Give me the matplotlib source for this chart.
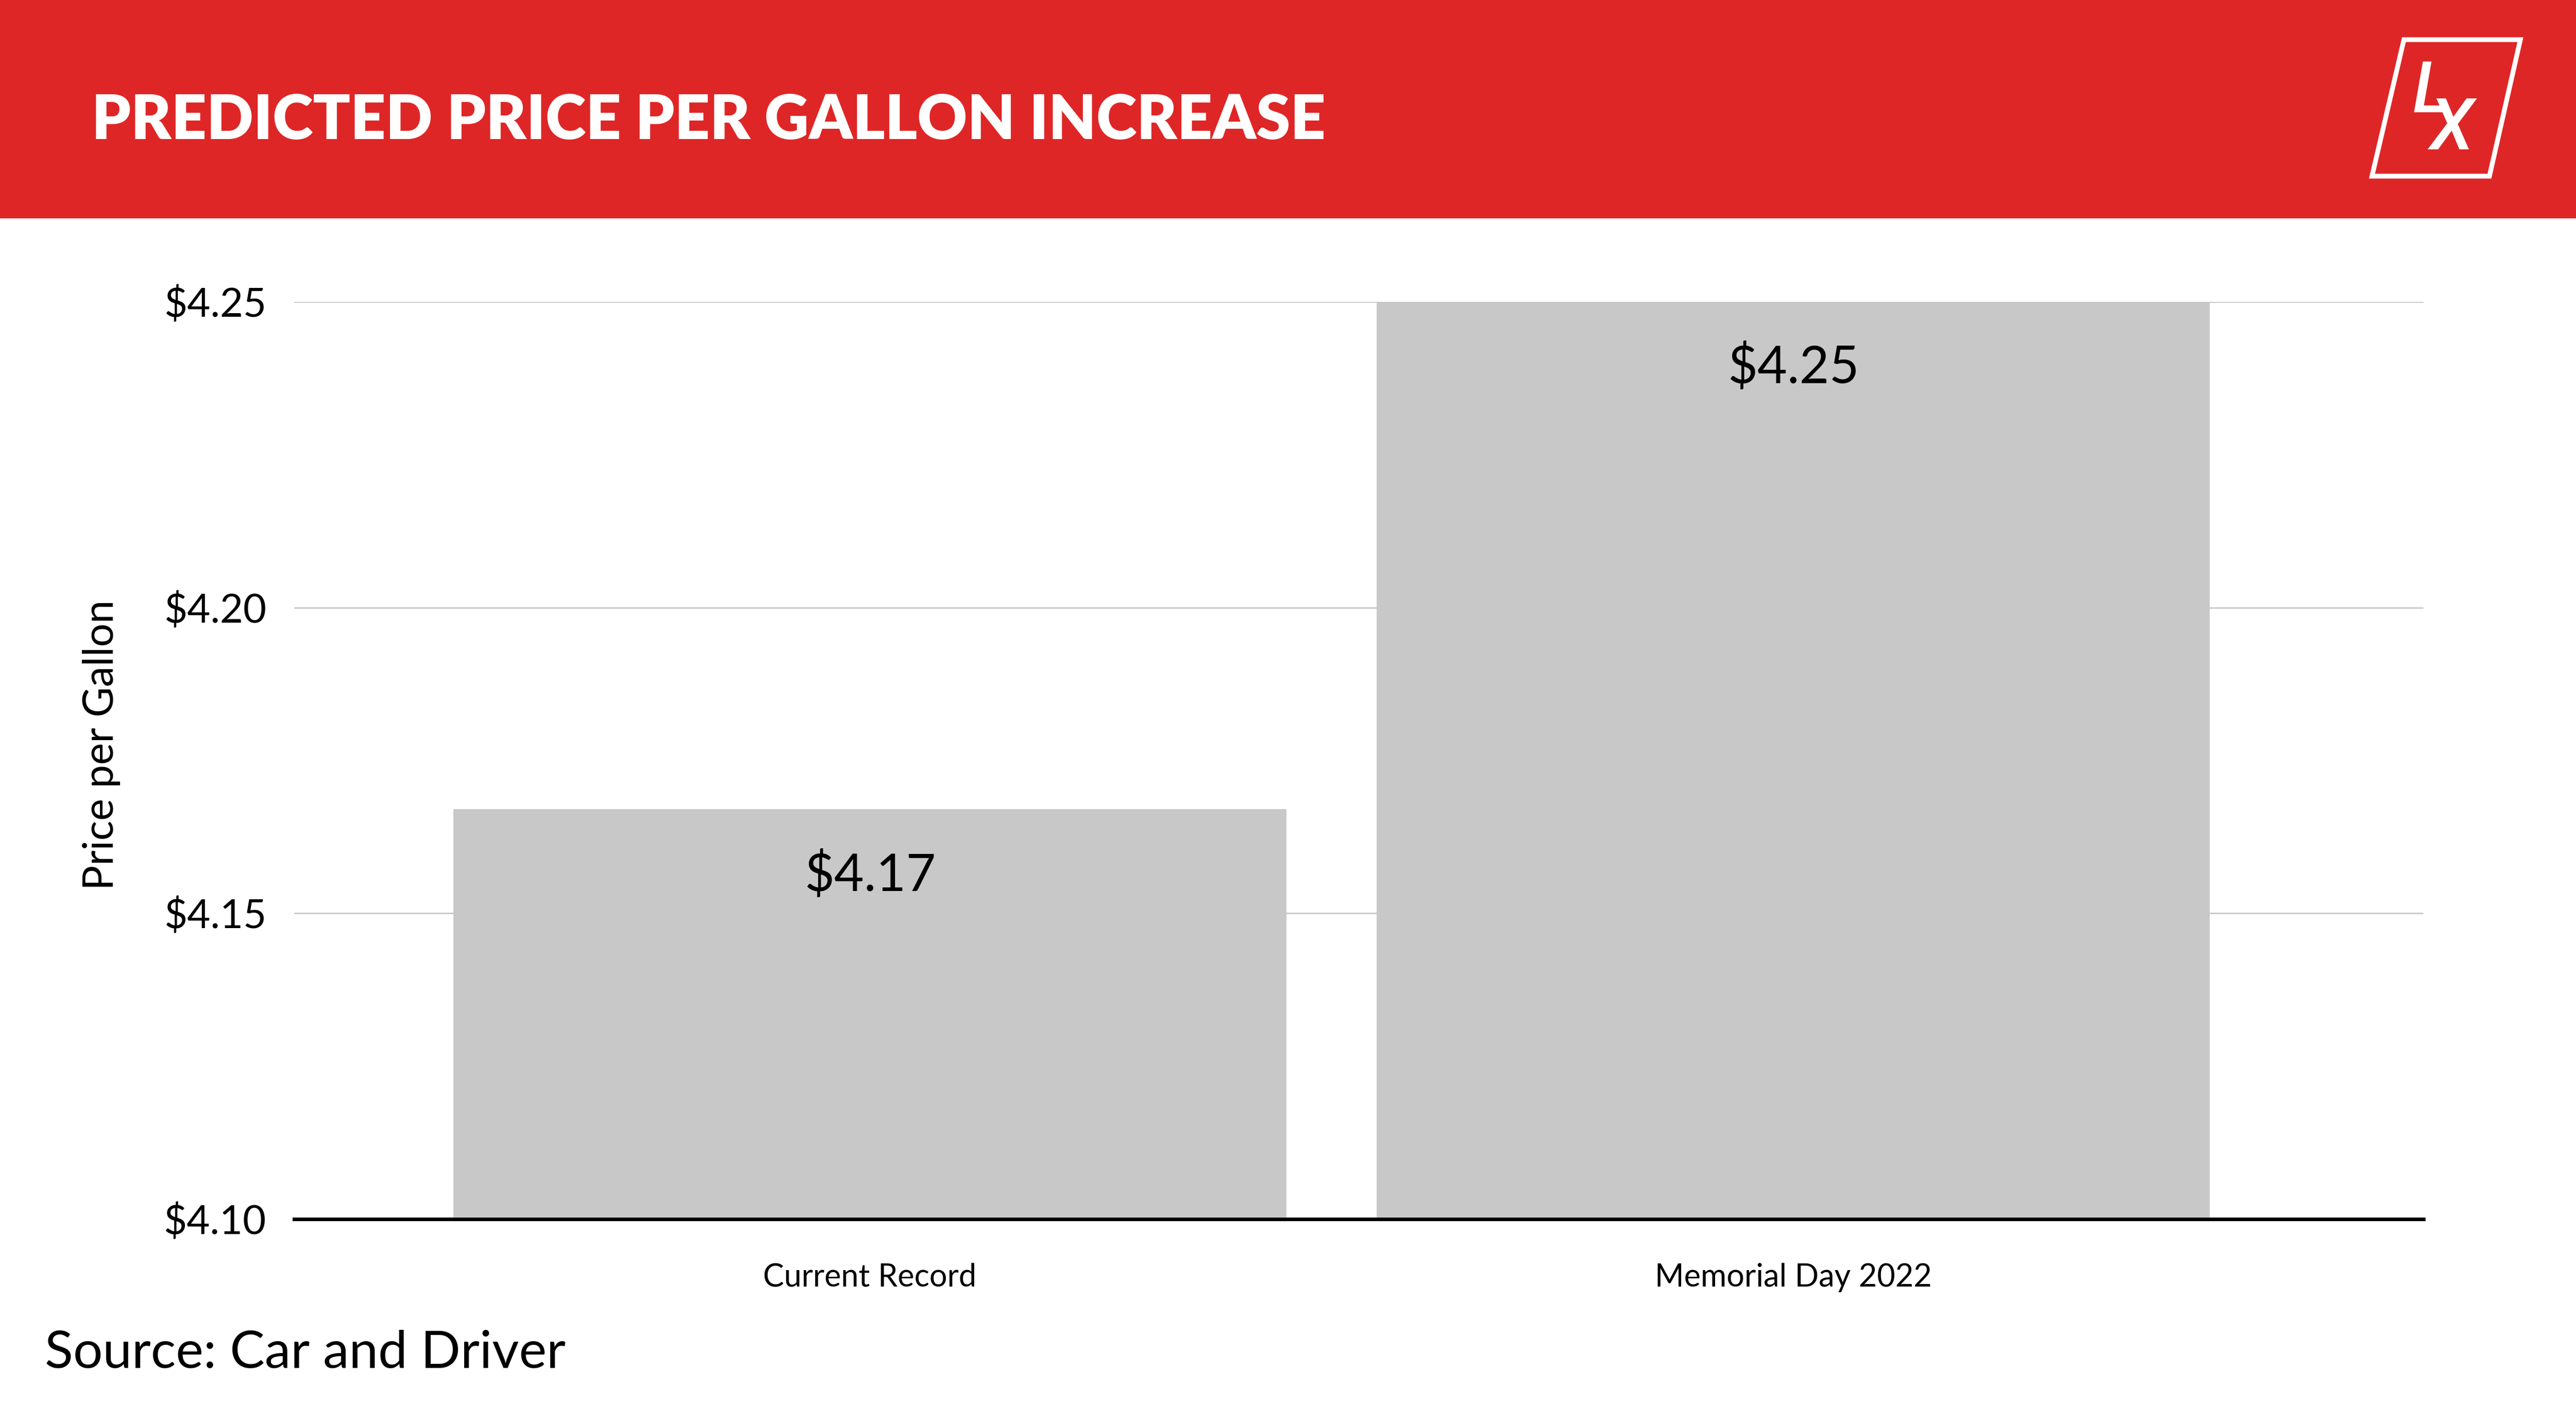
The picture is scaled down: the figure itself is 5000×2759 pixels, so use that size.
import matplotlib
matplotlib.use("Agg")
import matplotlib.pyplot as plt
from matplotlib.patches import Rectangle, Polygon

# data
categories = ["Current Record", "Memorial Day 2022"]
prices = [4.167, 4.25]
price_labels = ["$4.17", "$4.25"]
y_ticks = [4.10, 4.15, 4.20, 4.25]
y_tick_labels = ["$4.10", "$4.15", "$4.20", "$4.25"]

RED = "#DF2626"
BAR = "#C8C8C8"
GRID = "#CCCCCC"

plt.rcParams["font.family"] = ["Lato", "DejaVu Sans"]

W, H = 5000, 2759
fig = plt.figure(figsize=(W / 100, H / 100), dpi=100)
fig.patch.set_facecolor("white")


def fx(px):
    return px / W


def fy(py):
    return 1 - py / H


# red header band
fig.add_artist(Rectangle((0, fy(424)), 1, 424 / H, transform=fig.transFigure,
                         facecolor=RED, edgecolor="none", zorder=0))
fig.text(fx(178), fy(270), "PREDICTED PRICE PER GALLON INCREASE", color="white",
         fontsize=86, fontweight="heavy", va="baseline", ha="left")

# LX logo
fig.add_artist(Polygon([(fx(4666), fy(77)), (fx(4892), fy(77)),
                        (fx(4832), fy(342)), (fx(4604), fy(342))],
                       closed=True, fill=False, edgecolor="white", linewidth=6.7,
                       transform=fig.transFigure, joinstyle="miter"))
fig.text(fx(4682), fy(290), "L\n X", color="white", fontsize=100, family="Roboto",
         fontstyle="italic", fontweight="medium", va="baseline", ha="left",
         multialignment="left", linespacing=0.42)

ax = fig.add_axes([fx(571), fy(2367), fx(4704) - fx(571), (2367 - 586) / H])
x = range(len(categories))
ax.bar(x, prices, width=0.902, color=BAR, zorder=2)
ax.set_xlim(-0.6236, 1.6828)
ax.set_ylim(4.10, 4.25)

ax.set_yticks(y_ticks)
ax.set_yticklabels(y_tick_labels, fontsize=56)
ax.set_xticks(list(x))
ax.set_xticklabels(categories, fontsize=44)
ax.tick_params(axis="y", length=0, pad=39)
ax.tick_params(axis="x", length=0, pad=61)
ax.grid(axis="y", color=GRID, linewidth=2.2, zorder=1)
ax.set_axisbelow(True)

for s in ["left", "right", "top"]:
    ax.spines[s].set_visible(False)
ax.spines["bottom"].set_linewidth(5)
ax.spines["bottom"].set_color("black")
ax.spines["bottom"].set_zorder(3)

for xi, p, lab in zip(x, prices, price_labels):
    ax.annotate(lab, (xi, p), xytext=(0, -114), textcoords="offset points",
                ha="center", va="baseline", fontsize=72, color="black", zorder=4)

fig.text(0.0395, fy(1446), "Price per Gallon", rotation=90, ha="center", va="center",
         fontsize=58, color="black")

fig.text(fx(87), fy(2656), "Source: Car and Driver", fontsize=73, color="black",
         va="baseline", ha="left")

fig.savefig("out.png", dpi=100, facecolor="white")
